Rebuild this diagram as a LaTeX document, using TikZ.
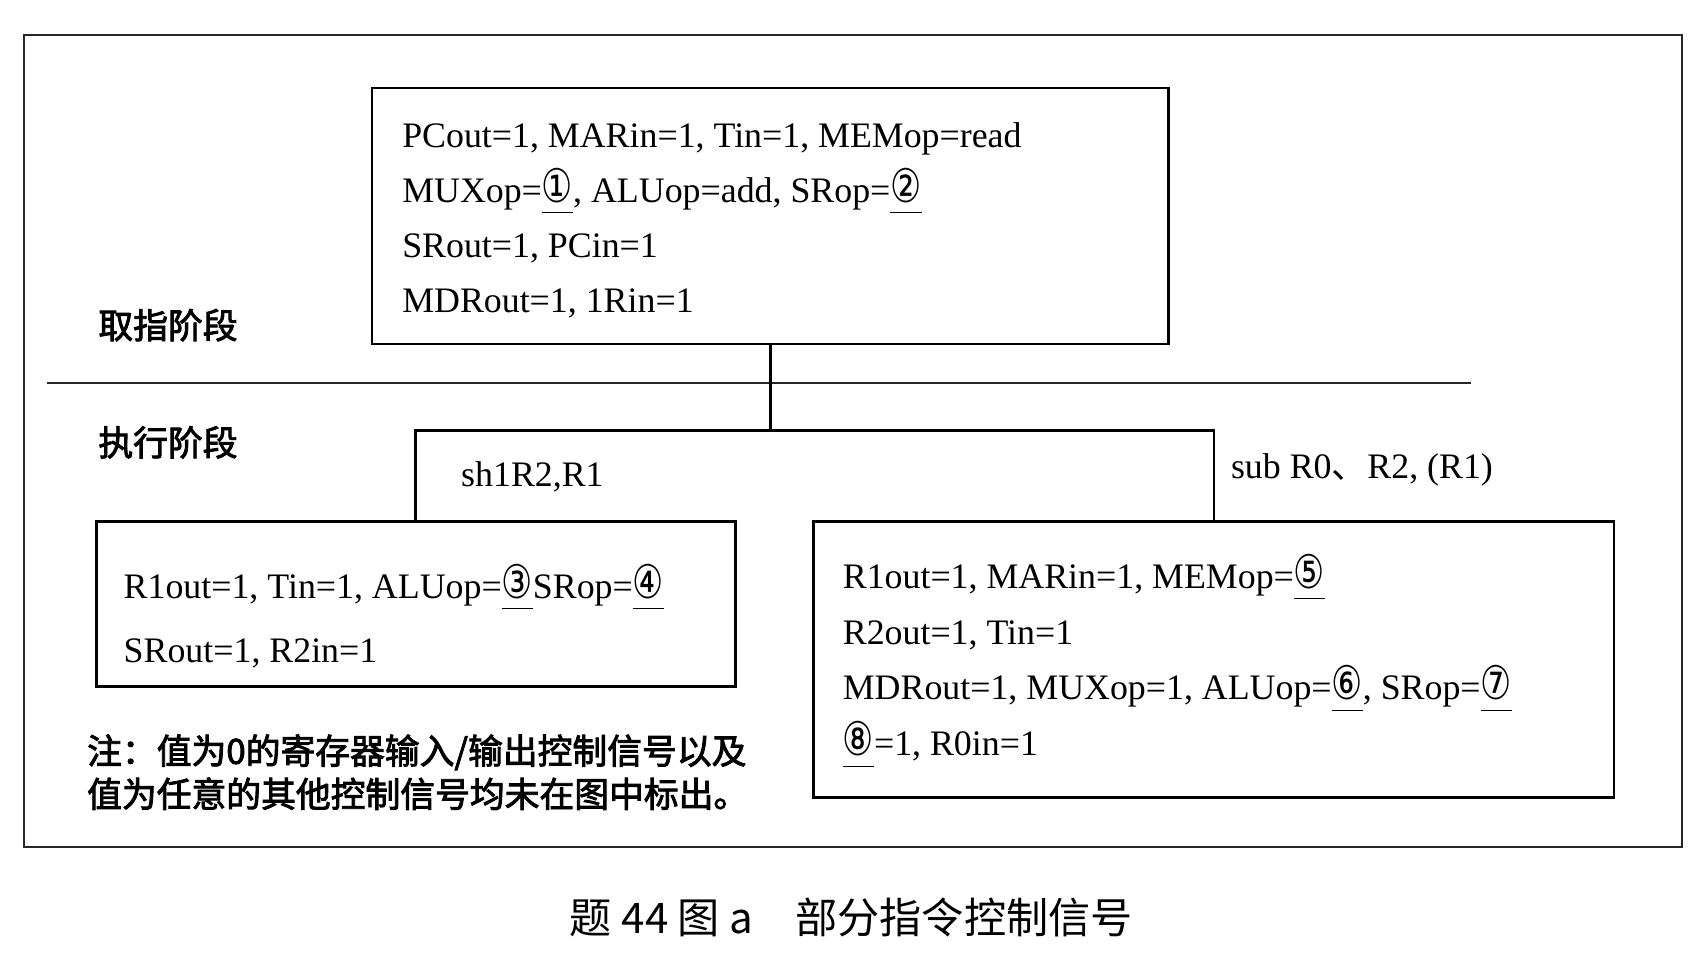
\documentclass[tikz,border=0pt]{standalone}
\usepackage{fontspec}
\usepackage{graphicx}
\setmainfont{Liberation Serif}
\newfontfamily\cjk[AutoFakeBold=2.5]{Noto Sans CJK SC}
\newfontfamily\symf{DejaVu Sans}
\usepackage{tikz}
\usetikzlibrary{positioning,calc}
\def\SigFont{\fontsize{17}{26.1}\selectfont}
\def\StageFont{\cjk\bfseries\fontsize{16.5}{20.5}\selectfont}
\newcommand\qnum[1]{\underline{\symf\fontsize{22}{22}\selectfont\scalebox{0.75}[1]{#1}\rule[-3.5pt]{0pt}{1pt}}}
\tikzset{
	sigbox/.style={draw,line width=1.3pt,rectangle,inner sep=0pt},
	sigtext/.style={align=left,inner sep=0pt,font=\SigFont},
	stagelabel/.style={inner sep=0pt,font=\StageFont},
	frameline/.style={line width=1pt,draw=black!85},
}

\begin{document}
\begin{tikzpicture}
			\useasboundingbox (0,0) rectangle (28.3,16);
			% frame and stage separator
			\coordinate (fsw) at (0.398,1.886);
			\coordinate (fne) at (28.03,15.42);
			\draw[frameline] (fsw) rectangle (fne);
			\coordinate (sepl) at (0.777,9.621);
			\coordinate (sepr) at (24.52,9.621);
			\draw[frameline] (sepl) -- (sepr);
			% 
			\node[sigbox,minimum width=13.28cm,minimum height=4.265cm] (fetch) at (12.84,12.40) {};
			\node[sigbox,minimum width=10.645cm,minimum height=2.747cm] (lbox) at (6.93,5.93) {};
			\node[sigbox,minimum width=13.337cm,minimum height=4.59cm,right=1.265cm of lbox.north east,anchor=north west] (rbox) {};
			% 
			\node[sigtext,right=0.52cm of fetch.west,yshift=-0.07cm] (fetchtxt) {PCout=1, MARin=1, Tin=1, MEMop=read\\
				MUXop=\qnum{①}, ALUop=add, SRop=\qnum{②}\\
				SRout=1, PCin=1\\
				MDRout=1, 1Rin=1};
			\node[sigtext,font=\fontsize{17}{30.7}\selectfont,right=0.47cm of lbox.west,yshift=-0.2cm] (ltxt) {R1out=1, Tin=1, ALUop=\qnum{③}SRop=\qnum{④}\\
				SRout=1, R2in=1};
			\node[sigtext,font=\fontsize{17}{26.5}\selectfont,right=0.5cm of rbox.west,yshift=-0.02cm] (rtxt) {R1out=1, MARin=1, MEMop=\qnum{⑤}\\
				R2out=1, Tin=1\\
				MDRout=1, MUXop=1, ALUop=\qnum{⑥}, SRop=\qnum{⑦}\\
				\qnum{⑧}=1, R0in=1};
			% 
			\node[stagelabel] (fetchlbl) at (2.80,10.58) {取指阶段};
			\node[stagelabel] (execlbl) at (2.80,8.627) {执行阶段};
			% 
			\coordinate (forkL) at ($(lbox.north)+(0,1.5)$);
			\coordinate (forkR) at (rbox.north |- forkL);
			\draw[line width=1.3pt] (fetch.south) -- (fetch.south |- forkL);
			\draw[line width=1.3pt] (lbox.north) -- (forkL) -- (forkR) -- (rbox.north);
			% 
			\node[sigtext,anchor=west] (shllbl) at (7.68,8.05) {sh1R2,R1};
			\node[sigtext,anchor=west] (sublbl) at (20.51,8.175) {sub R0{\cjk 、}R2, (R1)};
			% 
			\node[stagelabel,align=left,anchor=west] (note) at (1.446,3.13) {注：值为0的寄存器输入/输出控制信号以及\\值为任意的其他控制信号均未在图中标出。};
			\node[inner sep=0pt,font=\cjk\fontsize{20}{24}\selectfont] (caption) at (14.19,0.711) {题 44 图 a\quad 部分指令控制信号};
		\end{tikzpicture}
\end{document}
